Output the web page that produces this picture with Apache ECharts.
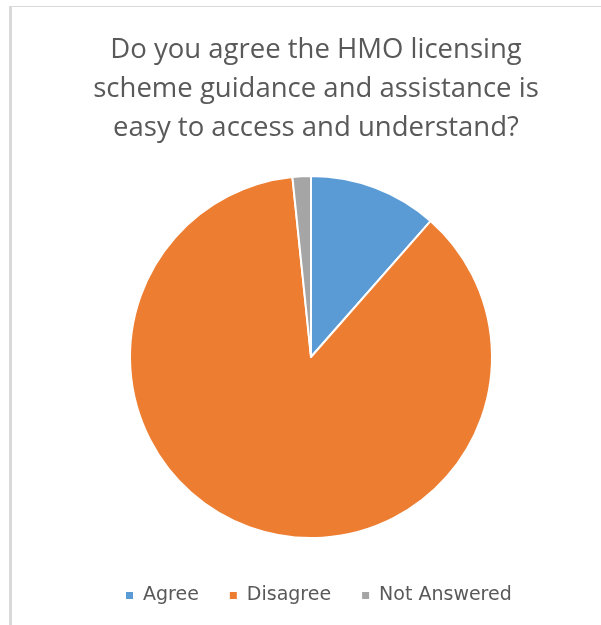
<!DOCTYPE html>
<html>
<head>
<meta charset="utf-8">
<script src="https://cdn.jsdelivr.net/npm/echarts@6/dist/echarts.min.js"></script>
<style>
  html, body { margin: 0; padding: 0; background: #ffffff; }
  #chart { width: 601px; height: 625px; }
</style>
</head>
<body>
<div id="chart"></div>
<script>
// Survey responses
const categories = ['Agree', 'Disagree', 'Not Answered'];
const responses = [7, 53, 1];
const colors = ['#5B9BD5', '#ED7D31', '#A5A5A5'];
const titleText = 'Do you agree the HMO licensing\nscheme guidance and assistance is\neasy to access and understand?';

const chart = echarts.init(document.getElementById('chart'), null, { renderer: 'canvas' });

chart.setOption({
  backgroundColor: '#ffffff',
  animation: false,
  title: {
    text: titleText,
    left: 311,
    textAlign: 'center',
    top: 26,
    textStyle: {
      fontFamily: 'Open Sans',
      fontWeight: 'normal',
      fontSize: 27.5,
      lineHeight: 39,
      color: '#595959'
    }
  },
  legend: {
    data: categories,
    top: 581,
    left: 119,
    itemWidth: 9,
    itemHeight: 9,
    itemGap: 29,
    icon: 'rect',
    textStyle: {
      fontFamily: 'DejaVu Sans',
      fontSize: 19,
      color: '#595959',
      padding: [0, 0, 0, 4]
    }
  },
  graphic: [
    { type: 'line', shape: { x1: 9, y1: 6.5, x2: 601, y2: 6.5 }, style: { stroke: '#d9d9d9', lineWidth: 1 } },
    { type: 'line', shape: { x1: 10.5, y1: 6, x2: 10.5, y2: 625 }, style: { stroke: '#d9d9d9', lineWidth: 3 } }
  ],
  series: [{
    type: 'pie',
    center: [311, 357],
    radius: [0, 181],
    startAngle: 90,
    clockwise: true,
    label: { show: false },
    labelLine: { show: false },
    emphasis: { disabled: true },
    itemStyle: { borderColor: '#ffffff', borderWidth: 2 },
    data: categories.map((name, i) => ({
      name: name,
      value: responses[i],
      itemStyle: { color: colors[i] }
    }))
  }]
});
</script>
</body>
</html>
